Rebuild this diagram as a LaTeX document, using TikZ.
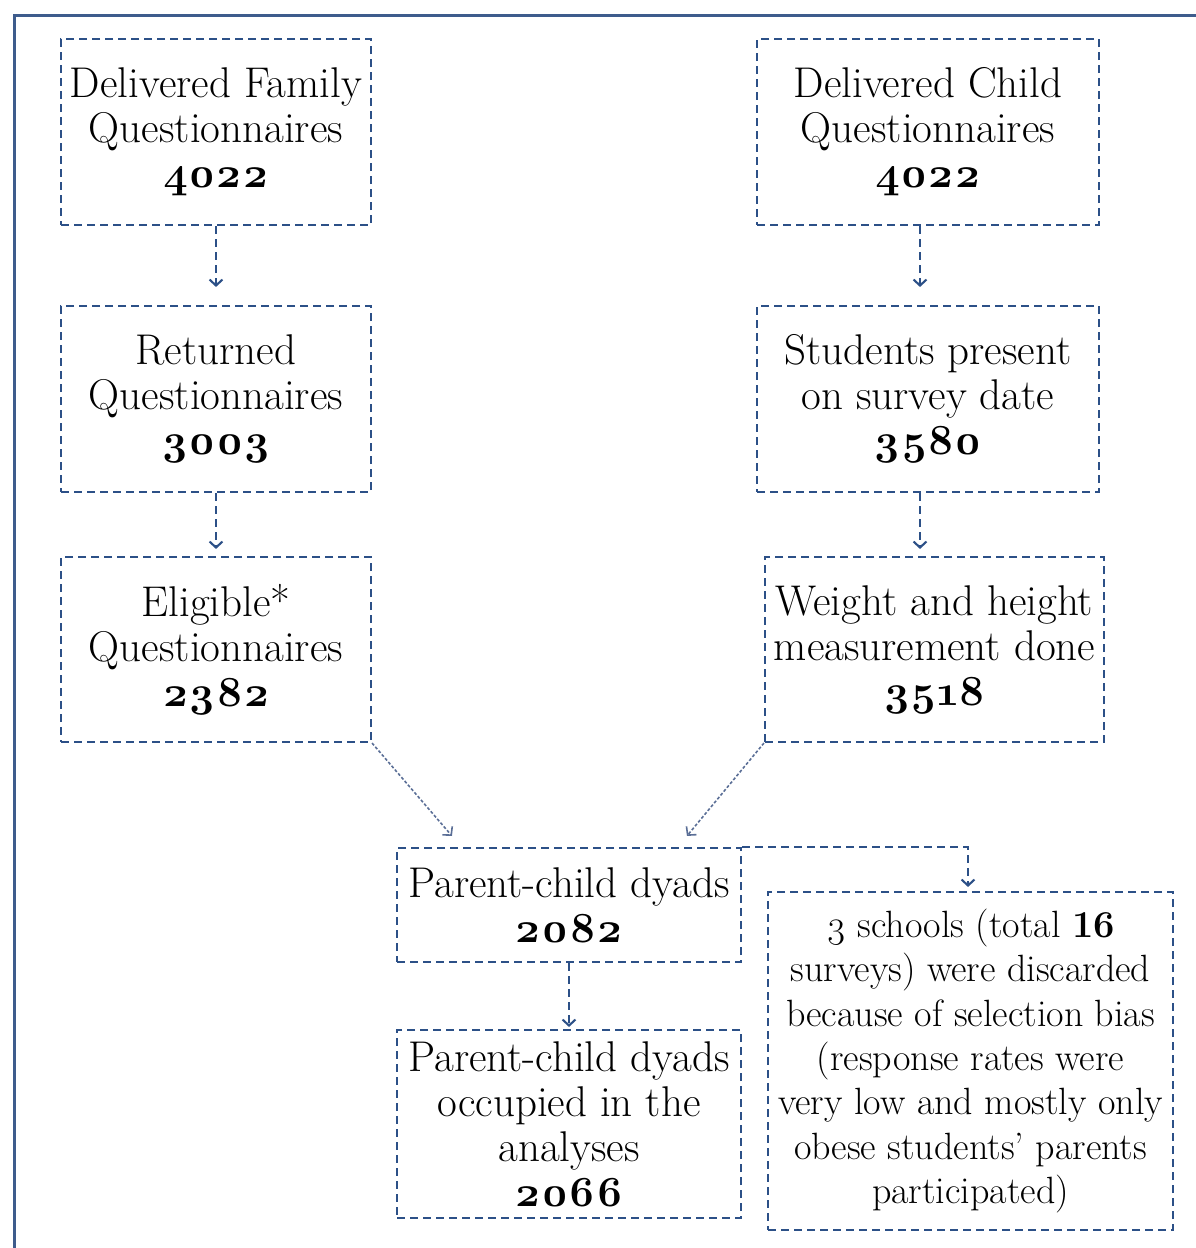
\documentclass[tikz,border=0pt]{standalone}
\usepackage{fontspec}
\newfontfamily\osf[Numbers=OldStyle]{Latin Modern Roman}
\usetikzlibrary{arrows.meta}
\definecolor{dl}{RGB}{44,80,135}
\definecolor{fr}{RGB}{62,92,140}
\definecolor{dg}{RGB}{90,110,150}
\newcommand\bnum[1]{{\osf\bfseries #1}}
\begin{document}
\begin{tikzpicture}[x=1pt,y=-1pt,
  box/.style={draw=dl,line width=2.1pt,dash pattern=on 8pt off 5pt,inner sep=0pt,
    align=center,text=black,font=\fontsize{43}{45}\selectfont},
  small/.style={font=\fontsize{38}{44.3}\selectfont},
  arr/.style={draw=dl,line width=2.1pt,dash pattern=on 8pt off 5pt,
    -{Straight Barb[length=6pt,width=13pt]}},
  darr/.style={draw=dg,line width=1.6pt,dash pattern=on 3pt off 2pt,
    -{Straight Barb[length=6pt,width=13pt]}}]
\useasboundingbox (0,0) rectangle (1196,1248);
% outer frame
\draw[fr,line width=3pt] (1200,15) -- (14,15) -- (14,1252);
% left column
\node[box,minimum width=310pt,minimum height=186pt] (f1) at (216,132)
  {Delivered Family\\Questionnaires\\\bnum{4022}};
\node[box,minimum width=310pt,minimum height=186pt] (f2) at (216,399)
  {Returned\\Questionnaires\\\bnum{3003}};
\node[box,minimum width=310pt,minimum height=185pt] (f3) at (216,649.5)
  {Eligible*\\Questionnaires\\\bnum{2382}};
% right column
\node[box,minimum width=342pt,minimum height=186pt] (c1) at (928,132)
  {Delivered Child\\Questionnaires\\\bnum{4022}};
\node[box,minimum width=342pt,minimum height=186pt] (c2) at (928,399)
  {Students present\\on survey date\\\bnum{3580}};
\node[box,minimum width=339pt,minimum height=185pt] (c3) at (934.5,649.5)
  {Weight and height\\measurement done\\\bnum{3518}};
% bottom
\node[box,minimum width=344pt,minimum height=114pt] (p1) at (569,905)
  {Parent-child dyads\\\bnum{2082}};
\node[box,minimum width=344pt,minimum height=188pt] (p2) at (569,1124)
  {Parent-child dyads\\occupied in the\\analyses\\\bnum{2066}};
\node[box,small,minimum width=405pt,minimum height=338pt] (ex) at (970.5,1061)
  {{\osf 3} schools (total \textbf{16}\\surveys) were discarded\\because of selection bias\\(response rates were\\very low and mostly only\\obese students’ parents\\participated)};
% connectors
\draw[arr,shorten >=18pt] (f1) -- (f2);
\draw[arr,shorten >=7pt] (f2) -- (f3);
\draw[arr,shorten >=18pt] ([xshift=-8pt]c1.south) -- ([xshift=-8pt]c2.north);
\draw[arr,shorten >=7pt] ([xshift=-8pt]c2.south) -- ([xshift=-8pt]c2.south |- c3.north);
\draw[darr] (f3.south east) -- ([xshift=56pt,yshift=11pt]p1.north west);
\draw[darr] (c3.south west) -- ([xshift=291pt,yshift=11pt]p1.north west);
\draw[arr,shorten >=2pt] (p1) -- (p2);
\draw[arr,shorten >=4pt] (p1.north east) -| ([xshift=-2.5pt]ex.north);
\end{tikzpicture}
\end{document}
